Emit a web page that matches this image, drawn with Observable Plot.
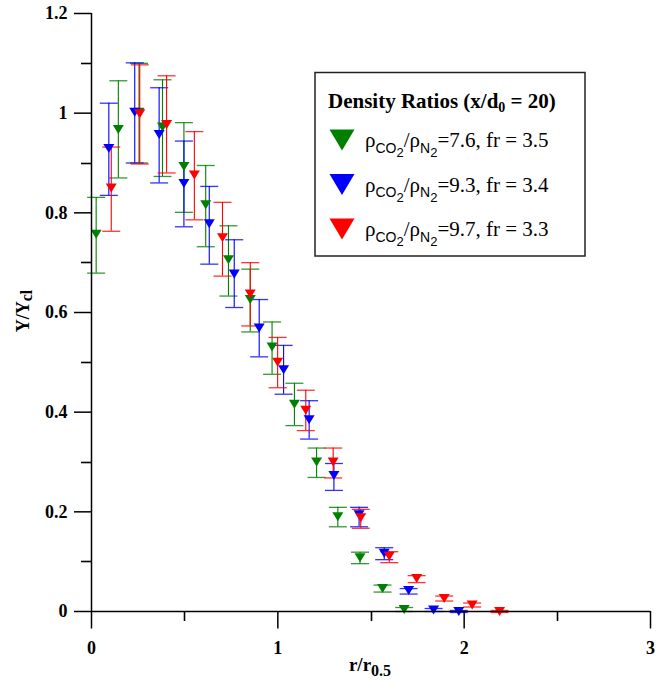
<!DOCTYPE html>
<html>
<head>
<meta charset="utf-8">
<script src="https://cdn.jsdelivr.net/npm/d3@7"></script>
<script src="https://cdn.jsdelivr.net/npm/@observablehq/plot@0.6"></script>
<style>
  html, body { margin: 0; padding: 0; background: #fff; }
  #chart svg { display: block; }
  #chart svg g[aria-label="x-axis tick label"] text,
  #chart svg g[aria-label="y-axis tick label"] text {
    font-size: 18px !important;
    font-weight: bold !important;
    font-family: 'Liberation Serif', 'Times New Roman', Times, serif !important;
  }
</style>
</head>
<body>
<div id="chart"></div>
<script>
// ---- Data ----
const seriesNames = ["7.6, fr = 3.5", "9.3, fr = 3.4", "9.7, fr = 3.3"];
const seriesColors = ["#008000", "#0000ff", "#ff0000"];

const greenX  = [0.025, 0.144, 0.255, 0.381, 0.496, 0.613, 0.735, 0.852, 0.969, 1.089, 1.208, 1.322, 1.441, 1.562, 1.678];
const greenY  = [0.757, 0.967, 1.002, 0.972, 0.893, 0.816, 0.706, 0.626, 0.531, 0.416, 0.300, 0.190, 0.108, 0.046, 0.004];
const greenHi = [0.831, 1.065, 1.100, 1.067, 0.981, 0.895, 0.774, 0.687, 0.581, 0.458, 0.328, 0.209, 0.119, 0.053, 0.008];
const greenLo = [0.679, 0.870, 0.900, 0.873, 0.801, 0.732, 0.633, 0.561, 0.476, 0.373, 0.269, 0.170, 0.096, 0.039, 0.000];

const blueX  = [0.093, 0.232, 0.363, 0.496, 0.632, 0.766, 0.900, 1.031, 1.168, 1.301, 1.436, 1.571, 1.702, 1.836, 1.971];
const blueY  = [0.929, 1.002, 0.957, 0.859, 0.778, 0.677, 0.569, 0.485, 0.385, 0.273, 0.194, 0.117, 0.042, 0.003, 0.000];
const blueHi = [1.020, 1.101, 1.051, 0.944, 0.853, 0.746, 0.626, 0.534, 0.423, 0.297, 0.209, 0.128, 0.046, 0.006, 0.002];
const blueLo = [0.835, 0.900, 0.860, 0.772, 0.697, 0.610, 0.511, 0.436, 0.346, 0.243, 0.170, 0.104, 0.035, 0.000, -0.002];

const redX  = [0.106, 0.259, 0.403, 0.552, 0.703, 0.852, 0.999, 1.150, 1.297, 1.445, 1.598, 1.745, 1.893, 2.043, 2.190];
const redY  = [0.850, 0.999, 0.977, 0.876, 0.750, 0.637, 0.500, 0.404, 0.300, 0.188, 0.111, 0.066, 0.026, 0.013, 0.000];
const redHi = [0.932, 1.097, 1.075, 0.963, 0.821, 0.700, 0.550, 0.444, 0.328, 0.205, 0.120, 0.072, 0.031, 0.017, 0.002];
const redLo = [0.763, 0.898, 0.880, 0.786, 0.673, 0.573, 0.449, 0.363, 0.268, 0.167, 0.098, 0.058, 0.021, 0.009, -0.002];

const xTicks = [0, 1, 2, 3];
const xTickLabels = ["0", "1", "2", "3"];
const xMinorTicks = [0.5, 1.5, 2.5];
const yTicks = [0, 0.2, 0.4, 0.6, 0.8, 1, 1.2];
const yTickLabels = ["0", "0.2", "0.4", "0.6", "0.8", "1", "1.2"];
const yMinorTicks = [0.1, 0.3, 0.5, 0.7, 0.9, 1.1];

// ---- Build tables ----
function table(xs, ys, los, his, s) {
  return xs.map((x, i) => ({x, y: ys[i], lo: los[i], hi: his[i], s}));
}
const series = [
  table(greenX, greenY, greenLo, greenHi, 0),
  table(blueX, blueY, blueLo, blueHi, 1),
  table(redX, redY, redLo, redHi, 2)
];

// custom symbols
const downTriangle = {
  draw(context, size) {
    const r = Math.sqrt(size / Math.PI);
    const h = 0.82 * r;
    context.moveTo(-r, -h);
    context.lineTo(r, -h);
    context.lineTo(0, h);
    context.closePath();
  }
};
const capLine = {
  draw(context, size) {
    const r = Math.sqrt(size / Math.PI);
    context.moveTo(-r, 0);
    context.lineTo(r, 0);
  }
};

const serif = "'Liberation Serif', 'Times New Roman', Times, serif";
const sans = "'Liberation Sans', Arial, Helvetica, sans-serif";

const marks = [];
series.forEach((data, k) => {
  const c = seriesColors[k];
  marks.push(
    Plot.ruleX(data, {x: "x", y1: "lo", y2: "hi", stroke: c, strokeWidth: 1.1}),
    Plot.dot(data, {x: "x", y: "hi", symbol: capLine, r: 9, fill: "none", stroke: c, strokeWidth: 1.3, strokeOpacity: 0.8}),
    Plot.dot(data, {x: "x", y: "lo", symbol: capLine, r: 9, fill: "none", stroke: c, strokeWidth: 1.3, strokeOpacity: 0.8})
  );
});
series.forEach((data, k) => {
  marks.push(Plot.dot(data, {x: "x", y: "y", symbol: downTriangle, r: 5.5, fill: seriesColors[k], stroke: "none"}));
});

const plot = Plot.plot({
  width: 672,
  height: 690,
  marginLeft: 91,
  marginRight: 22,
  marginTop: 13,
  marginBottom: 79,
  x: {domain: [0, 3]},
  y: {domain: [0, 1.2]},
  style: {fontFamily: serif, fontSize: "17px", fontWeight: "bold", color: "black", background: "white", overflow: "visible"},
  marks: [
    Plot.axisX({ticks: xTicks, tickSize: 17.5, tickPadding: 12, strokeWidth: 1.5, label: null,
      tickFormat: d => xTickLabels[xTicks.indexOf(d)], fontSize: 18, fontWeight: "bold", fontFamily: serif}),
    Plot.axisY({ticks: yTicks, tickSize: 17, tickPadding: 7, strokeWidth: 1.5, label: null,
      tickFormat: d => yTickLabels[yTicks.indexOf(d)], fontSize: 18, fontWeight: "bold", fontFamily: serif}),
    ...marks,
    Plot.ruleX([0], {strokeWidth: 1.5}),
    Plot.ruleY([0], {strokeWidth: 1.5})
  ]
});

document.getElementById("chart").appendChild(plot);

// ---- Minor ticks, axis titles & legend ----
const svg = d3.select(plot);
const sx = plot.scale("x"), sy = plot.scale("y");
const x0 = sx.apply(0), y0 = sy.apply(0);
const minor = svg.append("g").attr("stroke", "black").attr("stroke-width", 1.6).attr("fill", "none");
xMinorTicks.forEach(v => {
  const px = Math.round(sx.apply(v)) + 0.5;
  minor.append("path").attr("d", `M${px},${y0}V${y0 + 10}`);
});
yMinorTicks.forEach(v => {
  const py = Math.round(sy.apply(v)) + 0.5;
  minor.append("path").attr("d", `M${x0 - 10},${py}H${x0}`);
});

// x title: r/r_0.5
const xt = svg.append("text")
  .attr("x", 370).attr("y", 671)
  .attr("text-anchor", "middle")
  .style("font-family", serif).style("font-weight", "bold").style("font-size", "19px")
  .attr("fill", "black");
xt.append("tspan").text("r/r");
xt.append("tspan").attr("dy", 5).style("font-size", "16px").text("0.5");

// y title: Y/Y_cl
const yt = svg.append("text")
  .attr("transform", "translate(29,311) rotate(-90)")
  .attr("text-anchor", "middle")
  .style("font-family", serif).style("font-weight", "bold").style("font-size", "18px")
  .attr("fill", "black");
yt.append("tspan").text("Y/Y");
yt.append("tspan").attr("dy", 3).style("font-size", "16px").text("cl");

// legend box
const lg = svg.append("g").attr("text-anchor", "start");
lg.append("rect")
  .attr("x", 315).attr("y", 72.5).attr("width", 270).attr("height", 183.5)
  .attr("fill", "white").attr("stroke", "#222").attr("stroke-width", 1.5);

const lt = lg.append("text")
  .attr("x", 328).attr("y", 108)
  .attr("text-anchor", "start")
  .style("font-family", serif).style("font-weight", "bold").style("font-size", "21px")
  .attr("fill", "black");
lt.append("tspan").text("Density Ratios (x/d");
lt.append("tspan").attr("dy", 4).style("font-size", "14px").text("0");
lt.append("tspan").attr("dy", -4).text(" = 20)");

const entryY = [140, 184.5, 229];
seriesNames.forEach((name, k) => {
  const cy = entryY[k];
  lg.append("path")
    .attr("d", `M${342 - 12.5},${cy - 10.5}L${342 + 12.5},${cy - 10.5}L342,${cy + 10.5}Z`)
    .attr("fill", seriesColors[k]);
  const t = lg.append("text")
    .attr("x", 365).attr("y", cy + 7)
    .attr("text-anchor", "start")
    .style("font-family", serif).style("font-weight", "normal").style("font-size", "21px")
    .attr("fill", "black");
  t.append("tspan").text("ρ");
  t.append("tspan").attr("dy", 5.5).style("font-family", sans).style("font-size", "14px").text("CO");
  t.append("tspan").attr("dy", 4.5).style("font-family", sans).style("font-size", "13px").text("2");
  t.append("tspan").attr("dy", -10).text("/ρ");
  t.append("tspan").attr("dy", 5.5).style("font-family", sans).style("font-size", "14px").text("N");
  t.append("tspan").attr("dy", 4.5).style("font-family", sans).style("font-size", "13px").text("2");
  t.append("tspan").attr("dy", -10).text("=" + name);
});
</script>
</body>
</html>
